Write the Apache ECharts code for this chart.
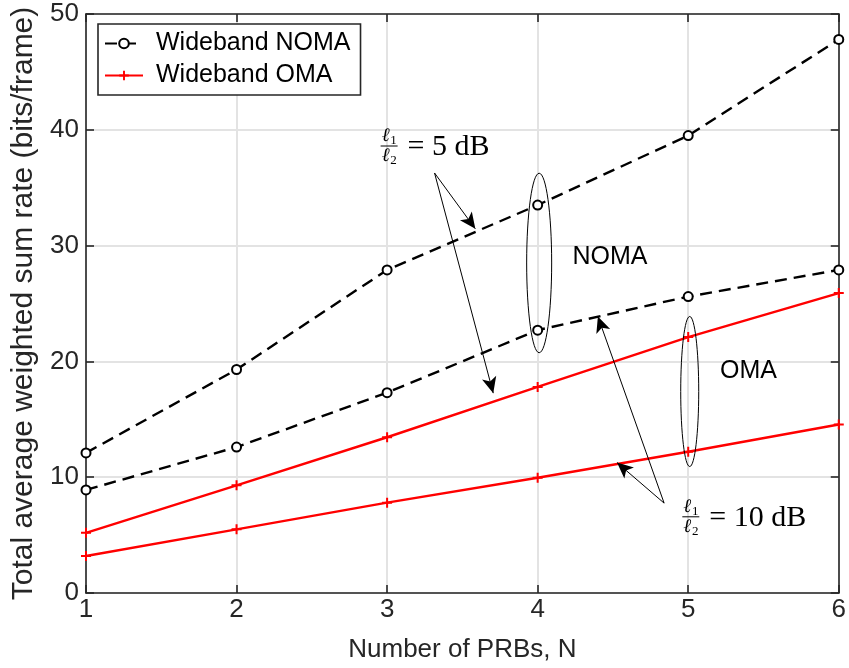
<!DOCTYPE html>
<html>
<head>
<meta charset="utf-8">
<script src="https://cdn.jsdelivr.net/npm/echarts@6/dist/echarts.min.js"></script>
<style>
  html, body { margin: 0; padding: 0; background: #fff; }
  #main { width: 849px; height: 668px; }
</style>
</head>
<body>
<div id="main"></div>
<script>
// number of PRBs on the x axis
const prbs = [1, 2, 3, 4, 5, 6];
// wideband NOMA, l1/l2 = 5 dB (upper) and 10 dB (lower)
const nomaHigh = [12.1, 19.3, 27.9, 33.5, 39.5, 47.8];
const nomaLow = [8.9, 12.6, 17.3, 22.7, 25.6, 27.9];
// wideband OMA
const omaHigh = [5.2, 9.3, 13.45, 17.8, 22.1, 25.9];
const omaLow = [3.2, 5.5, 7.8, 9.95, 12.2, 14.55];

const FONT = "'Liberation Sans', Arial, Helvetica, sans-serif";
const SERIF = "'Liberation Serif', 'DejaVu Serif', serif";
const AX = "#262626";

const plusIcon = "path://M4,0h2v4h4v2h-4v4h-2v-4h-4v-2h4z";

function pts(ys) {
  return prbs.map((x, i) => [x, ys[i]]);
}

function nomaSeries(ys) {
  return {
    name: "Wideband NOMA",
    type: "line",
    data: pts(ys),
    symbol: "emptyCircle",
    symbolSize: 9,
    lineStyle: { color: "#000", width: 2.4, type: [12, 7] },
    itemStyle: { color: "#000", borderWidth: 2 },
    z: 4,
  };
}
function omaSeries(ys) {
  return {
    name: "Wideband OMA",
    type: "line",
    data: pts(ys),
    symbol: plusIcon,
    symbolSize: 10,
    lineStyle: { color: "#ff0000", width: 2.4 },
    itemStyle: { color: "#ff0000" },
    z: 3,
  };
}

// annotation arrows, in data units
const arrows = [
  [[3.315, 36.27], [3.586, 31.45]],
  [[3.315, 36.27], [3.705, 17.26]],
  [[4.84, 7.76], [4.527, 11.26]],
  [[4.84, 7.76], [4.4, 23.88]],
];

var chart = echarts.init(document.getElementById("main"));

const axisCommon = {
  type: "value",
  axisLine: { show: true, onZero: false, lineStyle: { color: AX, width: 1.6 } },
  axisTick: { show: true, inside: true, length: 8, lineStyle: { color: AX, width: 1.6 } },
};

const option = {
  animation: false,
  backgroundColor: "#fff",
  grid: { left: 86, right: 5, top: 14, bottom: 74 },
  legend: {
    data: ["Wideband NOMA", "Wideband OMA"],
    orient: "vertical",
    left: 98,
    top: 24,
    itemWidth: 38,
    itemHeight: 12,
    itemGap: 7,
    padding: [7, 10, 7, 6],
    borderColor: AX,
    borderWidth: 1.6,
    backgroundColor: "#fff",
    textStyle: { fontFamily: FONT, fontSize: 25, color: "#000", padding: [0, 0, 0, 8] },
  },
  xAxis: [
    Object.assign({}, axisCommon, {
      min: 1, max: 6, interval: 1,
      position: "bottom",
      axisLabel: { fontFamily: FONT, fontSize: 26, color: AX, margin: 4 },
      splitLine: { show: true, lineStyle: { color: "#e3e3e3", width: 2 } },
      name: "Number of PRBs, N",
      nameLocation: "middle",
      nameGap: 44,
      nameTextStyle: { fontFamily: FONT, fontSize: 26, color: AX },
    }),
    Object.assign({}, axisCommon, {
      min: 1, max: 6, interval: 1,
      position: "top",
      axisLabel: { show: false },
      splitLine: { show: false },
    }),
  ],
  yAxis: [
    Object.assign({}, axisCommon, {
      min: 0, max: 50, interval: 10,
      position: "left",
      axisLabel: { fontFamily: FONT, fontSize: 26, color: AX, margin: 7 },
      splitLine: { show: true, lineStyle: { color: "#e3e3e3", width: 2 } },
      name: "Total average weighted sum rate (bits/frame)",
      nameLocation: "middle",
      nameGap: 43,
      nameTextStyle: { fontFamily: FONT, fontSize: 30, color: AX },
    }),
    Object.assign({}, axisCommon, {
      min: 0, max: 50, interval: 10,
      position: "right",
      axisLabel: { show: false },
      splitLine: { show: false },
    }),
  ],
  series: [
    nomaSeries(nomaHigh),
    nomaSeries(nomaLow),
    omaSeries(omaHigh),
    omaSeries(omaLow),
    {
      type: "line",
      data: [],
      silent: true,
      z: 5,
      markLine: {
        silent: true,
        animation: false,
        symbol: ["none", "arrow"],
        symbolSize: [11, 16],
        label: { show: false },
        lineStyle: { color: "#000", width: 1, type: "solid" },
        emphasis: { disabled: true },
        data: arrows.map((a) => [{ coord: a[0] }, { coord: a[1] }]),
      },
    },
  ],
};

chart.setOption(option);

// ellipses and labels placed from data coordinates
function px(p) {
  return chart.convertToPixel({ gridIndex: 0 }, p);
}
function ellipse(cx, cy, halfY, rx) {
  const c = px([cx, cy]);
  const t = px([cx, cy + halfY]);
  return {
    type: "ellipse",
    shape: { cx: c[0], cy: c[1], rx: rx, ry: c[1] - t[1] },
    style: { fill: null, stroke: "#000", lineWidth: 1 },
    z: 10,
  };
}
function label(x, y, text) {
  const p = px([x, y]);
  return {
    type: "text", x: p[0], y: p[1], z: 10,
    style: { text: text, font: "25px " + FONT, fill: "#000", align: "center", verticalAlign: "middle" },
  };
}
function fraction(x, y, rhs) {
  const p = px([x, y]);
  const cx = p[0], cy = p[1];
  const serif = (size) => size + "px " + SERIF;
  return [
    { type: "text", x: cx - 3, y: cy - 10, z: 10, style: { text: "ℓ", font: "italic " + serif(19), fill: "#000", align: "center", verticalAlign: "middle" } },
    { type: "text", x: cx + 5, y: cy - 5, z: 10, style: { text: "1", font: serif(13), fill: "#000", align: "center", verticalAlign: "middle" } },
    { type: "line", z: 10, shape: { x1: cx - 8, y1: cy, x2: cx + 9, y2: cy }, style: { stroke: "#000", lineWidth: 1 } },
    { type: "text", x: cx - 3, y: cy + 10, z: 10, style: { text: "ℓ", font: "italic " + serif(19), fill: "#000", align: "center", verticalAlign: "middle" } },
    { type: "text", x: cx + 5, y: cy + 15, z: 10, style: { text: "2", font: serif(13), fill: "#000", align: "center", verticalAlign: "middle" } },
    { type: "text", x: cx + 19, y: cy + 1, z: 10, style: { text: rhs, font: serif(30), fill: "#000", align: "left", verticalAlign: "middle" } },
  ];
}

chart.setOption({
  graphic: [
    ellipse(4.01, 28.5, 7.75, 12.5),
    ellipse(5.01, 17.4, 6.48, 9),
    label(4.48, 29.0, "NOMA"),
    label(5.4, 19.2, "OMA"),
  ]
    .concat(fraction(3.01, 38.6, "= 5 dB"))
    .concat(fraction(5.014, 6.58, "= 10 dB")),
});
</script>
</body>
</html>
